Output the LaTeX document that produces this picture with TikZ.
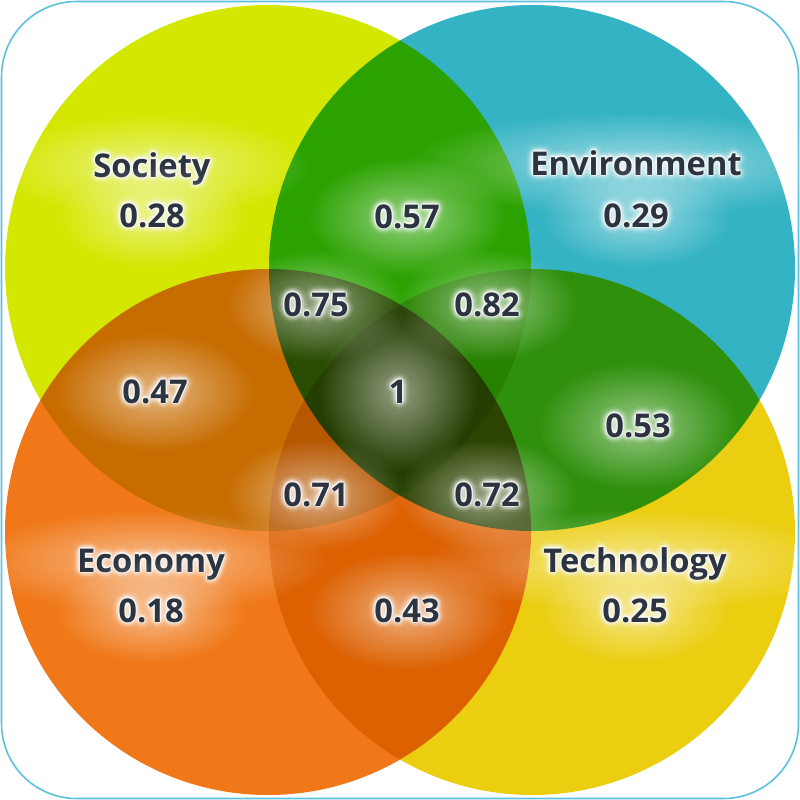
\documentclass[tikz,border=0pt]{standalone}
\usepackage{fontspec}
\setmainfont{Open Sans}
\usetikzlibrary{calc,fadings}
\definecolor{cSoc}{HTML}{D4E700}
\definecolor{cEnv}{HTML}{34B3C4}
\definecolor{cEco}{HTML}{F07818}
\definecolor{cTec}{HTML}{EBCE10}
\definecolor{txtc}{HTML}{2B3440}
\definecolor{frame}{HTML}{5BC0DE}
\tikzfading[name=glowf, inner color=transparent!50, outer color=transparent!100]
\tikzset{
  lbl/.style={font=\fontsize{9.3pt}{11pt}\selectfont\bfseries, text=txtc, inner sep=0pt, anchor=base},
  haloA/.style={lbl, text=white, opacity=0.28},
  haloB/.style={lbl, text=white, opacity=0.12},
  haloC/.style={lbl, text=white, opacity=0.06}
}
% name, x, baseline y, text, glow half width, glow half height
\newcommand{\glowlbl}[6]{%
  \fill[white, path fading=glowf] ($(#2,#3)+(0,-11)$) ellipse ({2*#5} and {2*#6});
  \foreach \a in {0,30,...,330} {
    \node[haloC] at ($(#2,#3)+(\a+15:7)$) {#4};
    \node[haloB] at ($(#2,#3)+(\a:4)$) {#4};
    \node[haloA] at ($(#2,#3)+(\a:1.6)$) {#4};
  }
  \node[lbl] (#1) at (#2,#3) {#4};
}
\begin{document}
\begin{tikzpicture}[x=0.01cm, y=-0.01cm]
\useasboundingbox (0,0) rectangle (800,800);
\fill[white] (0,0) rectangle (800,800);
\begin{scope}[blend mode=multiply]
  \fill[cSoc] (268,268) circle (263);
  \fill[cEnv] (532,268) circle (263);
  \fill[cEco] (268,532) circle (263);
  \fill[cTec] (532,532) circle (263);
\end{scope}
\draw[frame, line width=0.45pt, rounded corners=0.75cm] (1.5,1.5) rectangle (798.5,798.5);
\glowlbl{lSoc}{152}{177}{Society}{80}{26}
\glowlbl{vSoc}{152}{227}{0.28}{48}{26}
\glowlbl{lEnv}{636}{175}{Environment}{115}{26}
\glowlbl{vEnv}{636}{227}{0.29}{48}{26}
\glowlbl{lEco}{151}{572}{Economy}{90}{26}
\glowlbl{vEco}{151}{622}{0.18}{48}{26}
\glowlbl{lTec}{635}{572}{Technology}{105}{26}
\glowlbl{vTec}{635}{622}{0.25}{48}{26}
\glowlbl{v57}{407}{228}{0.57}{50}{30}
\glowlbl{v75}{316}{316}{0.75}{45}{28}
\glowlbl{v82}{487}{316}{0.82}{45}{28}
\glowlbl{v47}{155}{403}{0.47}{50}{30}
\glowlbl{v1}{398}{403}{1}{40}{40}
\glowlbl{v53}{638}{437}{0.53}{50}{32}
\glowlbl{v71}{316}{506}{0.71}{45}{28}
\glowlbl{v72}{487}{506}{0.72}{45}{28}
\glowlbl{v43}{407}{622}{0.43}{50}{30}
\end{tikzpicture}
\end{document}
